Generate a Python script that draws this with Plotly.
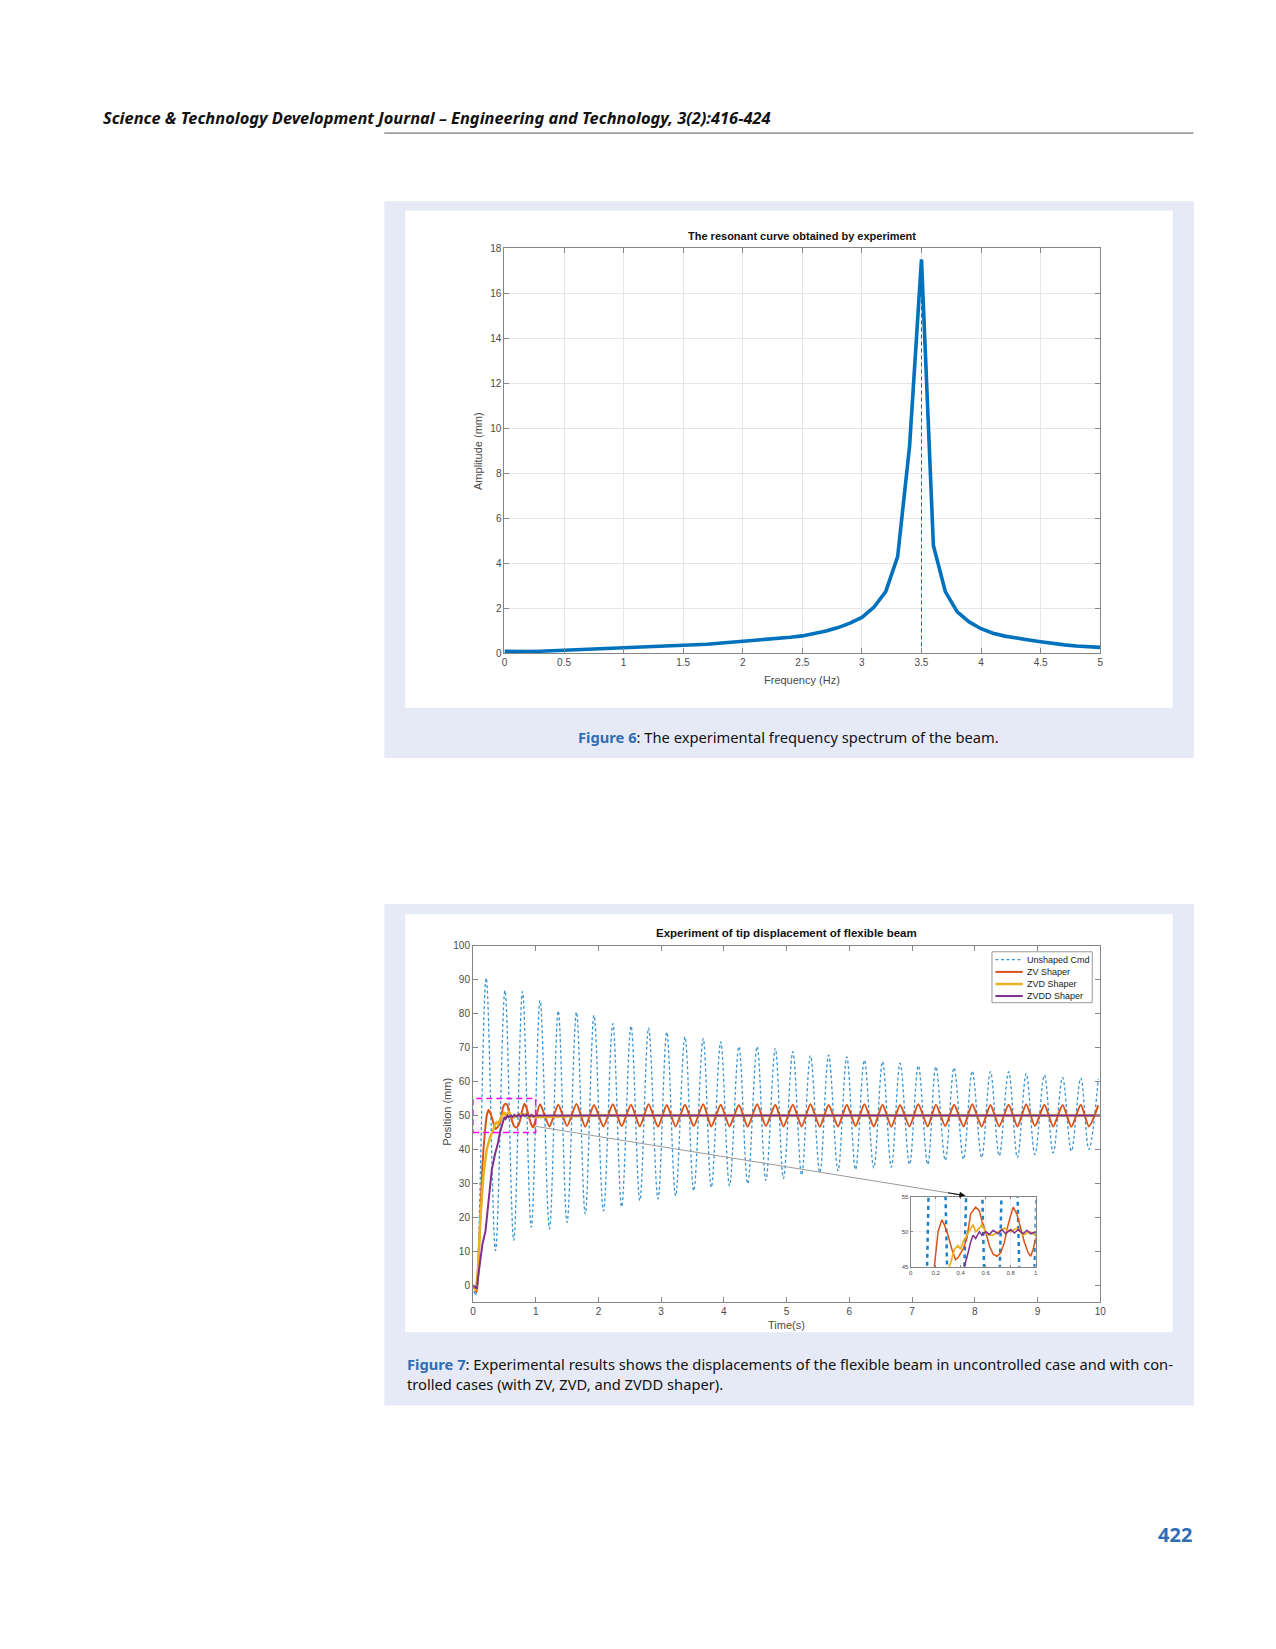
import plotly.graph_objects as go

# ---- Figure 6 : resonant curve ----
freq = [0.0, 0.1, 0.2, 0.3, 0.4, 0.5, 0.6, 0.7, 0.8, 0.9,
        1.0, 1.1, 1.2, 1.3, 1.4, 1.5, 1.6, 1.7, 1.8, 1.9,
        2.0, 2.1, 2.2, 2.3, 2.4, 2.5, 2.6, 2.7, 2.8, 2.9,
        3.0, 3.1, 3.2, 3.3, 3.4, 3.5, 3.6, 3.7, 3.8, 3.9,
        4.0, 4.1, 4.2, 4.3, 4.4, 4.5, 4.6, 4.7, 4.8, 4.9, 5.0]
amplitude = [0.10, 0.08, 0.08, 0.10, 0.13, 0.15, 0.17, 0.19, 0.21, 0.23,
             0.25, 0.27, 0.29, 0.31, 0.33, 0.36, 0.38, 0.41, 0.45, 0.49,
             0.53, 0.57, 0.61, 0.66, 0.72, 0.78, 0.88, 1.00, 1.15, 1.35,
             1.60, 2.05, 2.75, 4.30, 9.20, 17.50, 4.80, 2.75, 1.85, 1.40,
             1.10, 0.90, 0.77, 0.67, 0.60, 0.52, 0.43, 0.38, 0.33, 0.29, 0.27]

# ---- Figure 7 : tip displacement ----
series_names = ['Unshaped Cmd', 'ZV Shaper', 'ZVD Shaper', 'ZVDD Shaper']

# unshaped command, first second
un_head_t = [0.0, 0.04, 0.21, 0.36, 0.51, 0.65, 0.79, 0.93]
un_head_y = [0.0, -3.0, 90.5, 10.2, 86.8, 13.2, 86.5, 17.1]
# times of the peaks / troughs after 1 s (ZV oscillates in phase)
peak_t = [1.07, 1.36, 1.65, 1.93, 2.23, 2.52, 2.80, 3.09, 3.38, 3.67, 3.95,
          4.24, 4.53, 4.82, 5.10, 5.38, 5.67, 5.96, 6.24, 6.53, 6.81, 7.10,
          7.38, 7.67, 7.96, 8.25, 8.54, 8.82, 9.11, 9.40, 9.69, 9.97]
trough_t = [1.22, 1.50, 1.79, 2.08, 2.37, 2.66, 2.95, 3.23, 3.52, 3.80, 4.09,
            4.38, 4.67, 4.95, 5.24, 5.53, 5.82, 6.10, 6.39, 6.67, 6.96, 7.25,
            7.53, 7.82, 8.11, 8.39, 8.68, 8.96, 9.25, 9.54, 9.82]
un_peak_y = [83.9, 80.8, 80.5, 79.5, 77.1, 76.4, 75.8, 74.6, 73.2, 72.7, 71.7,
             70.3, 70.3, 69.8, 68.8, 67.6, 67.8, 67.3, 66.3, 65.9, 65.4, 64.7,
             64.4, 64.1, 63.1, 62.9, 62.9, 62.4, 61.9, 61.2, 61.0, 60.8]
un_trough_y = [16.6, 18.5, 21.0, 21.9, 23.1, 24.9, 25.4, 26.3, 27.8, 28.8, 29.3,
               29.9, 30.9, 31.5, 32.5, 33.2, 33.7, 34.1, 34.6, 34.8, 35.6, 35.6,
               36.8, 37.1, 37.6, 38.1, 37.6, 38.5, 39.0, 39.5, 40.0]

zv_head_t = [0.0, 0.06, 0.10, 0.15, 0.19, 0.22, 0.25, 0.27, 0.30, 0.33, 0.36,
             0.38, 0.42, 0.45, 0.48, 0.52, 0.55, 0.57, 0.60, 0.63, 0.66, 0.69,
             0.72, 0.75, 0.78, 0.82, 0.85, 0.88, 0.91, 0.94, 0.96, 0.98, 1.0]
zv_head_y = [0.0, -2.0, 12.0, 35.0, 45.0, 50.0, 51.7, 51.0, 49.5, 47.5, 46.0,
             46.3, 47.5, 49.0, 52.5, 53.5, 53.0, 51.5, 50.0, 48.0, 46.8, 46.5,
             47.0, 48.5, 51.0, 53.5, 52.5, 50.5, 48.5, 47.0, 46.5, 47.5, 49.0]
zv_peak_y = [53.3, 53.2, 53.4, 53.1, 53.3, 53.2, 53.3, 53.1, 53.2, 53.3, 53.2,
             53.1, 53.3, 53.2, 53.2, 53.3, 53.1, 53.2, 53.3, 53.2, 53.1, 53.3,
             53.2, 53.2, 53.3, 53.1, 53.2, 53.3, 53.2, 53.1, 53.2, 53.0]
zv_trough_y = [46.8, 46.9, 46.7, 46.8, 46.9, 46.8, 46.7, 46.8, 46.9, 46.8, 46.8,
               46.7, 46.9, 46.8, 46.8, 46.7, 46.8, 46.9, 46.8, 46.7, 46.8, 46.8,
               46.9, 46.8, 46.7, 46.8, 46.8, 46.9, 46.8, 46.7, 46.8]

zvd_t = [0.0, 0.05, 0.08, 0.12, 0.17, 0.22, 0.27, 0.32, 0.35, 0.38, 0.40, 0.42,
         0.45, 0.48, 0.50, 0.52, 0.55, 0.57, 0.60, 0.63, 0.66, 0.70, 0.75, 0.80,
         0.85, 0.90, 0.95, 1.0, 2.0, 4.0, 6.0, 8.0, 10.0]
zvd_y = [0.0, -1.5, 5.0, 20.0, 33.0, 40.0, 43.5, 45.5, 47.5, 48.0, 47.5, 48.5,
         49.5, 50.5, 51.0, 50.0, 50.5, 51.0, 50.0, 49.5, 49.5, 50.0, 50.5, 50.0,
         50.5, 49.5, 50.0, 49.5, 50.0, 50.0, 50.0, 50.0, 50.0]

zvdd_t = [0.0, 0.06, 0.10, 0.15, 0.20, 0.25, 0.30, 0.35, 0.40, 0.43, 0.46, 0.48,
          0.50, 0.52, 0.55, 0.57, 0.60, 0.63, 0.66, 0.70, 0.73, 0.76, 0.80, 0.83,
          0.86, 0.90, 0.93, 0.96, 1.0, 2.0, 4.0, 6.0, 8.0, 10.0]
zvdd_y = [0.0, -1.0, 5.0, 12.0, 16.0, 26.0, 34.0, 38.5, 42.0, 45.0, 47.0, 48.5,
          49.5, 49.0, 50.0, 49.5, 50.0, 49.6, 50.2, 49.7, 50.3, 49.7, 50.3, 49.8,
          50.3, 49.7, 50.2, 49.7, 50.0, 50.0, 50.0, 50.0, 50.0, 50.0]


def interleave(pt, py_, tt, ty):
    pts = sorted(list(zip(pt, py_)) + list(zip(tt, ty)))
    return [p[0] for p in pts], [p[1] for p in pts]


t_tail, y_tail = interleave(peak_t, un_peak_y, trough_t, un_trough_y)
un_t = un_head_t + t_tail
un_y = un_head_y + y_tail
t_tail, y_tail = interleave(peak_t, zv_peak_y, trough_t, zv_trough_y)
zv_t = zv_head_t + t_tail
zv_y = zv_head_y + y_tail

W, H = 1276, 1649


def px(x):
    return x / W


def py(y):
    return 1 - y / H


BLUE = '#0072BD'
ORANGE = '#D95319'
YELLOW = '#EDB120'
PURPLE = '#7E2F8E'
UNSH = '#3b95d3'
PANEL = '#e6eaf6'
CAPBLUE = '#2f6db5'
AX = '#858585'
TXT = '#4a4a4a'
CHART_FONT = 'Liberation Sans, Arial, sans-serif'
PAGE_FONT = 'Noto Sans, Open Sans, sans-serif'

fig = go.Figure()

# figure 6
fig.add_trace(go.Scatter(x=freq, y=amplitude, mode='lines', xaxis='x', yaxis='y',
                         line=dict(color=BLUE, width=3.6), showlegend=False))
peak_i = amplitude.index(max(amplitude))
fig.add_trace(go.Scatter(x=[freq[peak_i], freq[peak_i]], y=[0, amplitude[peak_i]],
                         mode='lines', xaxis='x', yaxis='y',
                         line=dict(color=BLUE, width=1, dash='4px,3px'), showlegend=False))

# figure 7 main
main_styles = [
    dict(color=UNSH, width=1.3, dash='3px,2.5px', shape='spline', smoothing=1),
    dict(color=ORANGE, width=2, shape='spline', smoothing=0.6),
    dict(color=YELLOW, width=2.5),
    dict(color=PURPLE, width=2),
]
inset_styles = [
    dict(color='#1f7fc4', width=2.5, dash='4px,4px', shape='spline', smoothing=1),
    dict(color=ORANGE, width=1.5),
    dict(color=YELLOW, width=1.8),
    dict(color=PURPLE, width=1.5),
]
series = [(un_t, un_y), (zv_t, zv_y), (zvd_t, zvd_y), (zvdd_t, zvdd_y)]
for (t, y), name, st in zip(series, series_names, main_styles):
    fig.add_trace(go.Scatter(x=t, y=y, mode='lines', name=name, xaxis='x2', yaxis='y2',
                             line=st, showlegend=False))
# inset (zoom of the first second)
for (t, y), st in zip(series, inset_styles):
    fig.add_trace(go.Scatter(x=t, y=y, mode='lines', xaxis='x3', yaxis='y3',
                             line=st, showlegend=False))

axis_common = dict(showline=True, linecolor=AX, linewidth=1, mirror='ticks', ticks='inside',
                   tickcolor=AX, ticklen=5, zeroline=False,
                   tickfont=dict(family=CHART_FONT, size=10, color=TXT))

shapes = [
    # header rule
    dict(type='line', xref='paper', yref='paper', x0=px(384), x1=px(1199), y0=py(128), y1=py(128),
         line=dict(color='#555555', width=1)),
    # figure 6 panel
    dict(type='rect', xref='paper', yref='paper', x0=px(384), x1=px(1199.3), y0=py(757.4), y1=py(196.7),
         fillcolor=PANEL, line=dict(width=0), layer='below'),
    dict(type='rect', xref='paper', yref='paper', x0=px(405), x1=px(1178), y0=py(707), y1=py(206),
         fillcolor='white', line=dict(width=0), layer='below'),
    # figure 7 panel
    dict(type='rect', xref='paper', yref='paper', x0=px(384), x1=px(1199.3), y0=py(1409.7), y1=py(904.7),
         fillcolor=PANEL, line=dict(width=0), layer='below'),
    dict(type='rect', xref='paper', yref='paper', x0=px(405), x1=px(1178), y0=py(1336), y1=py(915),
         fillcolor='white', line=dict(width=0), layer='below'),
    # zoom box
    dict(type='rect', xref='x2', yref='y2', x0=0, x1=1, y0=45, y1=55,
         line=dict(color='#ff00ff', width=1.5, dash='6px,4px')),
    # connector
    dict(type='line', xref='x2', yref='y2', x0=1.0, y0=46.8, x1=7.85, y1=26.4,
         line=dict(color='#9a9a9a', width=1)),
    # legend box
    dict(type='rect', xref='paper', yref='paper', x0=px(996), x1=px(1097), y0=py(1004), y1=py(952.7),
         fillcolor='white', line=dict(color='#9a9a9a', width=1)),
]


def note(text, x, y, size, color, family=CHART_FONT, xanchor='center', angle=0):
    return dict(text=text, x=px(x), y=py(y), xref='paper', yref='paper', xanchor=xanchor,
                yanchor='middle', showarrow=False, textangle=angle,
                font=dict(family=family, size=size, color=color))


annotations = [
    note('<b><i>Science & Technology Development Journal – Engineering and Technology, 3(2):416-424</i></b>',
         99, 112, 16.4, '#111111', PAGE_FONT, 'left'),
    note('<b>422</b>', 1199, 1540, 20, CAPBLUE, PAGE_FONT, 'right'),
    # figure 6 texts
    note('<b>The resonant curve obtained by experiment</b>', 805, 232, 11, '#111111'),
    note('Frequency (Hz)', 805, 679, 11, TXT),
    note('Amplitude (mm)', 478.6, 448, 11, TXT, angle=-90),
    note('<span style="color:%s"><b>Figure 6</b></span>: The experimental frequency spectrum of the beam.' % CAPBLUE,
         791, 736.5, 14.7, '#111111', PAGE_FONT),
    # figure 7 texts
    note('<b>Experiment of tip displacement of flexible beam</b>', 789, 934, 11.5, '#111111'),
    note('Time(s)', 789, 1329, 11, TXT),
    note('Position (mm)', 447, 1114, 11, TXT, angle=-90),
    note('<span style="color:%s"><b>Figure 7</b></span>: Experimental results shows the displacements of the flexible beam in uncontrolled case and with con-' % CAPBLUE,
         405, 1367.5, 14.7, '#111111', PAGE_FONT, 'left'),
    note('trolled cases (with ZV, ZVD, and ZVDD shaper).', 405, 1388.6, 14.7, '#111111', PAGE_FONT, 'left'),
    # arrow head onto the inset
    dict(x=7.85, y=26.4, ax=7.55, ay=27.3, xref='x2', yref='y2', axref='x2', ayref='y2',
         text='', showarrow=True, arrowhead=2, arrowsize=1.2, arrowwidth=1, arrowcolor='#111111'),
]

# hand-drawn legend (plotly's own legend rows are too tall for this one)
legend_rows = [960.7, 973.0, 985.2, 997.3]
for name, st, ry in zip(series_names, main_styles, legend_rows):
    shapes.append(dict(type='line', xref='paper', yref='paper', x0=px(999.5), x1=px(1027), y0=py(ry), y1=py(ry),
                       line=dict(color=st['color'], width=st['width'], dash=st.get('dash', 'solid'))))
    annotations.append(note(name, 1029.5, ry, 9, '#222222', xanchor='left'))

fig.update_layout(
    width=W, height=H,
    margin=dict(l=0, r=0, t=0, b=0),
    paper_bgcolor='white', plot_bgcolor='white',
    showlegend=False,
    shapes=shapes, annotations=annotations,
    xaxis=dict(domain=[px(505), px(1105)], range=[0, 5], tickvals=[0, 0.5, 1, 1.5, 2, 2.5, 3, 3.5, 4, 4.5, 5],
               ticktext=['0', '0.5', '1', '1.5', '2', '2.5', '3', '3.5', '4', '4.5', '5'],
               showgrid=True, gridcolor='#e6e6e6', anchor='y', **axis_common),
    yaxis=dict(domain=[py(652.2), py(244)], range=[0, 18], dtick=2,
               showgrid=True, gridcolor='#e6e6e6', anchor='x', **axis_common),
    xaxis2=dict(domain=[px(473.3), px(1105)], range=[0, 10], dtick=1, showgrid=False, anchor='y2',
                **axis_common),
    yaxis2=dict(domain=[py(1305.7), py(946.7)], range=[-5, 100], dtick=10, showgrid=False, anchor='x2',
                **axis_common),
    xaxis3=dict(domain=[px(914), px(1040)], range=[0, 1], tickvals=[0, 0.2, 0.4, 0.6, 0.8, 1],
                ticktext=['0', '0.2', '0.4', '0.6', '0.8', '1'], anchor='y3',
                showline=True, linecolor=AX, mirror='ticks', ticks='inside', ticklen=2, tickcolor=AX,
                showgrid=True, gridcolor='#ececec', zeroline=False,
                tickfont=dict(family=CHART_FONT, size=6, color=TXT)),
    yaxis3=dict(domain=[py(1270), py(1199.3)], range=[45, 55], tickvals=[45, 50, 55], anchor='x3',
                showline=True, linecolor=AX, mirror='ticks', ticks='inside', ticklen=2, tickcolor=AX,
                showgrid=True, gridcolor='#ececec', zeroline=False,
                tickfont=dict(family=CHART_FONT, size=6, color=TXT)),
)

fig.write_html("out.html", config={'displayModeBar': False},
               post_script="document.body.style.margin='0px';document.body.style.overflow='hidden';")
